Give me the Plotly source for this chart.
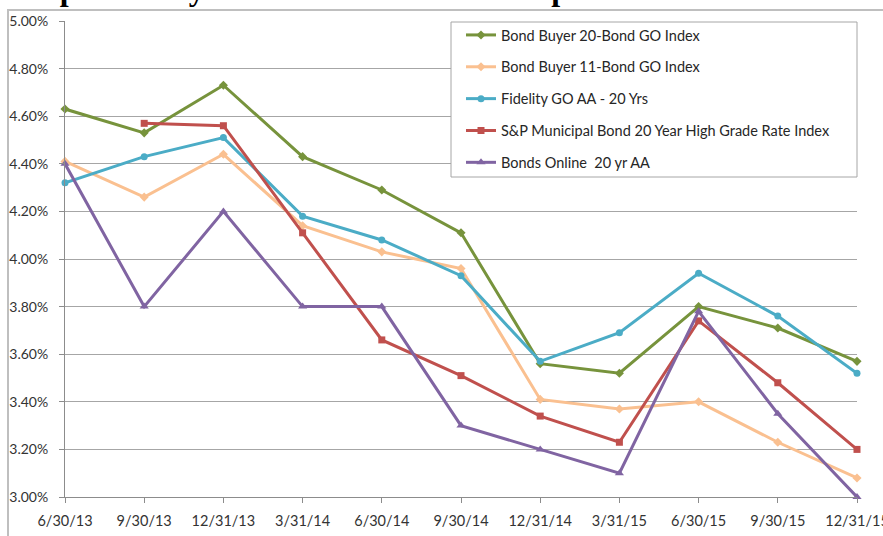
import plotly.graph_objects as go

# Quarter-end dates (category axis)
dates = ["6/30/13", "9/30/13", "12/31/13", "3/31/14", "6/30/14", "9/30/14",
         "12/31/14", "3/31/15", "6/30/15", "9/30/15", "12/31/15"]

# Yields in percent
bond_buyer_20 = [4.63, 4.53, 4.73, 4.43, 4.29, 4.11, 3.56, 3.52, 3.80, 3.71, 3.57]
bond_buyer_11 = [4.41, 4.26, 4.44, 4.14, 4.03, 3.96, 3.41, 3.37, 3.40, 3.23, 3.08]
fidelity_go_aa = [4.32, 4.43, 4.51, 4.18, 4.08, 3.93, 3.57, 3.69, 3.94, 3.76, 3.52]
sp_high_grade = [None, 4.57, 4.56, 4.11, 3.66, 3.51, 3.34, 3.23, 3.74, 3.48, 3.20]
bonds_online = [4.40, 3.80, 4.20, 3.80, 3.80, 3.30, 3.20, 3.10, 3.78, 3.35, 3.00]

series = [
    ("Bond Buyer 20-Bond GO Index", bond_buyer_20, "#77933C", "diamond"),
    ("Bond Buyer 11-Bond GO Index", bond_buyer_11, "#FAC090", "diamond"),
    ("Fidelity GO AA - 20 Yrs", fidelity_go_aa, "#4BACC6", "circle"),
    ("S&P Municipal Bond 20 Year High Grade Rate Index", sp_high_grade, "#C0504D", "square"),
    ("Bonds Online  20 yr AA", bonds_online, "#8064A2", "triangle-up"),
]

y_ticks = [3.0 + 0.2 * i for i in range(11)]
y_tick_text = [f"{v:.2f}%" for v in y_ticks]

fig = go.Figure()
for i, (name, vals, color, sym) in enumerate(series):
    fig.add_trace(go.Scatter(
        x=dates, y=vals, name=name, mode="lines+markers",
        line=dict(color=color, width=3),
        marker=dict(color=color, symbol=sym, size=7 if sym != "triangle-up" else 8),
        legendgroup=f"g{i}", cliponaxis=False, connectgaps=False,
    ))

W, H = 883, 536
L, R, T, B = 65, 26, 21, 39
pw, ph = W - L - R, H - T - B


def px_x(x):
    """Figure pixel x -> paper fraction."""
    return (x - L) / pw


def px_y(y):
    """Figure pixel y (from top) -> paper fraction."""
    return (H - B - y) / ph


font_family = "Lato, 'Open Sans', sans-serif"
label_color = "#333333"

fig.update_layout(
    width=W, height=H,
    margin=dict(l=L, r=R, t=T, b=B, pad=0, autoexpand=False),
    paper_bgcolor="white", plot_bgcolor="white",
    font=dict(family=font_family, size=14, color=label_color),
    showlegend=True,
    legend=dict(
        x=px_x(461), y=px_y(19), xanchor="left", yanchor="top",
        bgcolor="rgba(0,0,0,0)", borderwidth=0,
        font=dict(family=font_family, size=14.5, color="#262626"),
        tracegroupgap=10, itemwidth=30,
    ),
    xaxis=dict(
        type="category", range=[0, 10], automargin=False,
        showgrid=False, showline=True, linecolor="#8C8C8C", linewidth=1,
        ticks="outside", ticklen=5, tickcolor="#8C8C8C",
        ticklabelstandoff=6,
        tickfont=dict(family=font_family, size=14.5, color=label_color),
        zeroline=False,
    ),
    yaxis=dict(
        range=[3.0, 5.0], tickvals=y_ticks, ticktext=y_tick_text, automargin=False,
        showgrid=True, gridcolor="#A6A6A6", gridwidth=1,
        showline=True, linecolor="#8C8C8C", linewidth=1,
        ticks="outside", ticklen=5, tickcolor="#8C8C8C",
        ticklabelstandoff=8,
        tickfont=dict(family=font_family, size=14, color=label_color),
        zeroline=False,
    ),
)

# Legend box (white panel behind the legend entries)
fig.add_shape(type="rect", xref="paper", yref="paper",
              x0=px_x(451), x1=px_x(857), y0=px_y(177), y1=px_y(22),
              line=dict(color="#A6A6A6", width=1), fillcolor="white", layer="above")

# Chart frame around the whole chart area
fig.add_shape(type="rect", xref="paper", yref="paper",
              x0=px_x(8), x1=px_x(W + 20), y0=px_y(H + 20), y1=px_y(10),
              line=dict(color="#BFBFBF", width=2), fillcolor="rgba(0,0,0,0)", layer="below")

# Title (sits above the frame)
fig.add_annotation(
    text="<b>Comparison by Index of Selected Municipal Bond Yields</b>",
    xref="paper", yref="paper", x=px_x(-8), y=px_y(9),
    xanchor="left", yanchor="bottom", showarrow=False,
    font=dict(family="'Liberation Serif', 'Times New Roman', serif", size=32, color="black"),
)

fig.write_html("out.html")
